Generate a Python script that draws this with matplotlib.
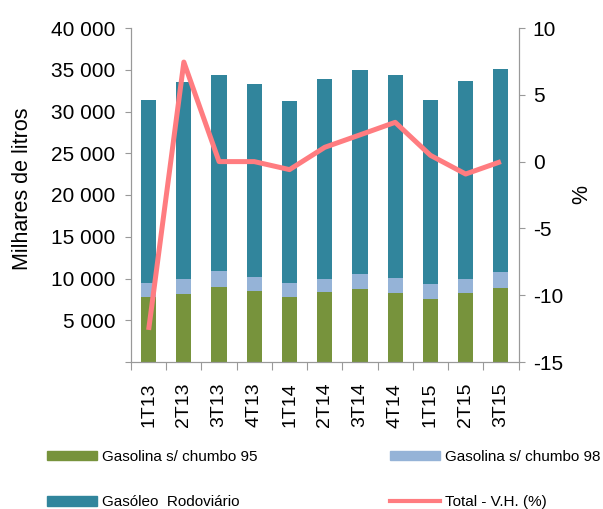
import matplotlib
matplotlib.use("Agg")
import matplotlib.pyplot as plt
from matplotlib.ticker import FuncFormatter, MultipleLocator
from matplotlib.patches import Patch
from matplotlib.lines import Line2D

plt.rcParams['font.family'] = ['Liberation Sans', 'DejaVu Sans']
plt.rcParams['axes.unicode_minus'] = False

categories = ["1T13", "2T13", "3T13", "4T13", "1T14", "2T14", "3T14", "4T14", "1T15", "2T15", "3T15"]
gas95 = [7780, 8140, 8980, 8500, 7780, 8380, 8740, 8260, 7540, 8260, 8860]
gas98 = [1680, 1800, 1920, 1680, 1680, 1560, 1800, 1800, 1800, 1680, 1920]
gasoleo = [21920, 23590, 23470, 23110, 21800, 23950, 24430, 24310, 22040, 23710, 24310]
total_vh = [-12.6, 7.45, 0.0, 0.0, -0.6, 1.07, 2.0, 2.94, 0.47, -0.93, 0.0]

c95 = "#77933C"
c98 = "#95B3D7"
cgas = "#31859C"
cline = "#FF7C80"
spc = "#999999"

W, H = 603, 509
fig = plt.figure(figsize=(W / 100, H / 100), dpi=100)
L, R, T, B = 131, 518.5, 28, 362
ax = fig.add_axes([L / W, 1 - B / H, (R - L) / W, (B - T) / H])
x = list(range(len(categories)))
w = 0.43
b3 = [a + b for a, b in zip(gas95, gas98)]
ax.bar(x, gas95, w, color=c95)
ax.bar(x, gas98, w, bottom=gas95, color=c98)
ax.bar(x, gasoleo, w, bottom=b3, color=cgas)
ax.set_xlim(-0.5, len(categories) - 0.5)
ax.set_ylim(0, 40000)
ax.yaxis.set_major_locator(MultipleLocator(5000))
ax.yaxis.set_major_formatter(FuncFormatter(lambda v, p: "" if v == 0 else f"{int(v):,}".replace(",", " ")))
ax.set_xticks([i - 0.5 for i in range(len(categories) + 1)])
ax.set_xticklabels([])
ax.set_xticks(x, minor=True)
ax.set_xticklabels(categories, minor=True, rotation=90, fontsize=14)
ax.tick_params(axis='x', which='minor', length=0, pad=15)
ax.tick_params(axis='x', which='major', length=5.8, color=spc, direction='out')
ax.tick_params(axis='y', labelsize=15, length=4.3, color=spc, direction='out', pad=7)
ax.spines["top"].set_visible(False)
for s in ["left", "bottom", "right"]:
    ax.spines[s].set_color(spc)

ax2 = ax.twinx()
ax2.plot(x, total_vh, color=cline, lw=3.6, solid_capstyle='butt', solid_joinstyle='round')
ax2.set_ylim(-15, 10)
ax2.yaxis.set_major_locator(MultipleLocator(5))
ax2.tick_params(axis='y', labelsize=15, length=4.3, color=spc, direction='out', pad=6)
ax2.spines["top"].set_visible(False)
for s in ["left", "bottom", "right"]:
    ax2.spines[s].set_color(spc)

fig.text(23 / W, 1 - 189 / H, "Milhares de litros", rotation=90, ha='center', va='center', fontsize=15.5)
fig.text(582 / W, 1 - 195 / H, "%", rotation=90, ha='center', va='center', fontsize=15.5)

common = dict(frameon=False, fontsize=11, handlelength=3.27, handleheight=0.6, handletextpad=0.33,
              labelspacing=2.05, borderaxespad=0, borderpad=0, loc="center left")
leg1 = fig.legend([Patch(color=c95), Patch(color=cgas)],
                  ["Gasolina s/ chumbo 95", "Gasóleo  Rodoviário"],
                  bbox_to_anchor=(47 / W, 1 - 479.5 / H), **common)
leg2 = fig.legend([Patch(color=c98), Line2D([], [], color=cline, lw=3.0)],
                  ["Gasolina s/ chumbo 98", "Total - V.H. (%)"],
                  bbox_to_anchor=(390 / W, 1 - 479.5 / H), **common)

fig.savefig("out.png", dpi=100)
